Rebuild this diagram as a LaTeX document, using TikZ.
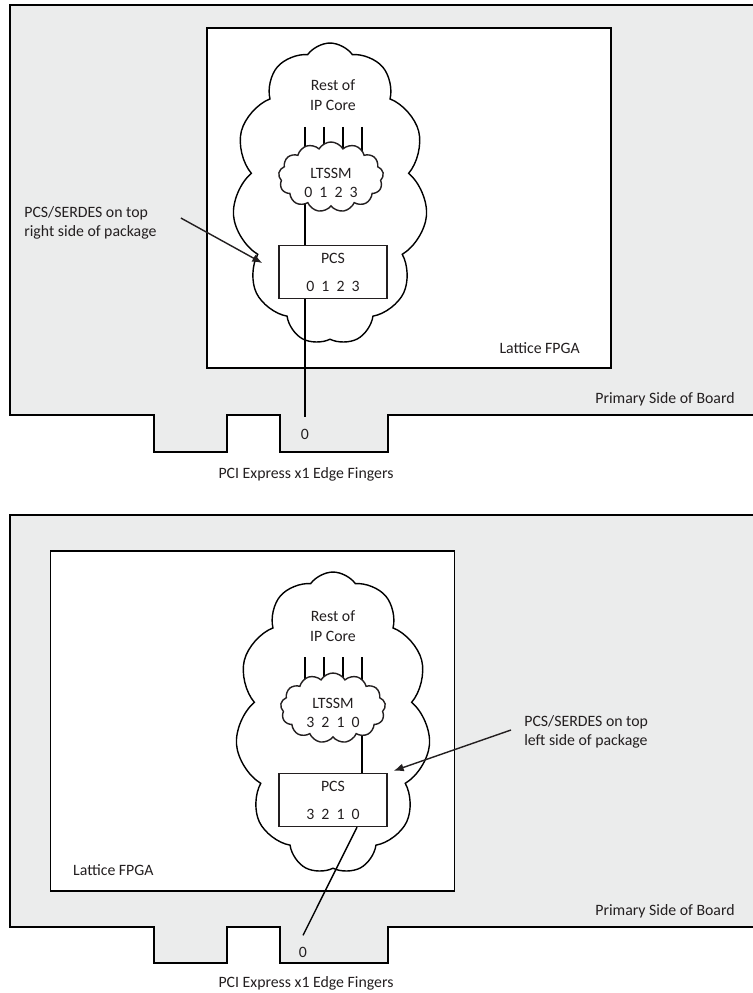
\documentclass[tikz,border=0pt]{standalone}
\usepackage{fontspec}
\setmainfont{Carlito}
\usetikzlibrary{shapes.symbols, arrows.meta, positioning, calc}
\pgfdeclarelayer{back}
\pgfdeclarelayer{wires}
\pgfsetlayers{back,wires,main}
\definecolor{boardgray}{HTML}{EBECEC}
\definecolor{ink}{HTML}{231F20}

\begin{document}
\begin{tikzpicture}[x=0.02cm, y=-0.02cm, ink, font=\fontsize{9}{11}\selectfont]
    \tikzstyle{board} = [draw, fill=boardgray, line width=1pt]
    \tikzstyle{fpga} = [rectangle, draw, fill=white, line width=1pt, minimum width=8.08cm, minimum height=6.8cm]
    \tikzstyle{core} = [cloud, draw, fill=white, cloud puffs=11, cloud puff arc=110, minimum width=3.9cm, minimum height=6.04cm, line width=0.8pt]
    \tikzstyle{ltssm} = [cloud, draw, fill=white, cloud puffs=13, cloud puff arc=120, minimum width=2.1cm, minimum height=1.4cm, line width=0.8pt]
    \tikzstyle{pcs} = [rectangle, draw, fill=white, minimum width=2.16cm, minimum height=1.06cm, align=center, line width=0.8pt]
    \tikzstyle{note} = [inner sep=0pt, align=left, anchor=west]
    \tikzstyle{line} = [draw, line width=0.8pt]
    \tikzstyle{pointer} = [draw, -{Latex[length=2mm, width=1.6mm]}, line width=0.8pt]

    \useasboundingbox (0,0) rectangle (753,993);

    % Top: PCS/SERDES on top right side
    \begin{pgfonlayer}{back}
    \path[board] (753,5) -- (10,5) -- (10,415) -- (154,415) -- (154,452) -- (227,452) -- (227,415) -- (280,415) -- (280,452) -- (388,452) -- (388,415) -- (753,415);
    \node[fpga] (fpgaTop) at (409,198) {};
    \node[core] (coreTop) at (330,194) {};
    \end{pgfonlayer}

    \node[align=center] (restTop) at (333,95) {Rest of\\IP Core};
    \node[ltssm] (ltssmTop) at (331,177) {};
    \node[align=center] (laneTop) at (331,183) {LTSSM\\0\ \ 1\ \ 2\ \ 3};
    \node[pcs] (pcsTop) at (333,272) {PCS\\[5pt]0\ \ 1\ \ 2\ \ 3};
    \node (finTop) at (305,434) {0};
    \node (edgeTop) at (306,474) {PCI Express x1 Edge Fingers};
    \node[anchor=east] (nameTop) at (586,348) {Lattice FPGA};
    \node (sideTop) at (665,399) {Primary Side of Board};
    \node[note] (noteTop) at (24,223) {PCS/SERDES on top\\right side of package};

    \begin{pgfonlayer}{wires}
    \foreach \x [count=\i] in {305,324,343,362} {
        \coordinate (busTop\i) at (\x,127);
        \path[line] (busTop\i) -- (busTop\i |- ltssmTop.center);
    }
    \path[line] (ltssmTop.center -| busTop1) -- (pcsTop.north -| busTop1);
    \path[line] (pcsTop.south -| busTop1) -- ([yshift=3pt]finTop.north);
    \end{pgfonlayer}
    \path[pointer] ([shift={(24,-5)}]noteTop.east) -- ([shift={(-16,-9)}]pcsTop.west);

    % Bottom: PCS/SERDES on top left side
    \begin{pgfonlayer}{back}
    \path[board] (753,515) -- (10,515) -- (10,927) -- (154,927) -- (154,963) -- (227,963) -- (227,927) -- (280,927) -- (280,963) -- (388,963) -- (388,927) -- (753,927);
    \node[fpga] (fpgaBot) at (252.5,721) {};
    \node[core] (coreBot) at (333,723) {};
    \end{pgfonlayer}

    \node[align=center] (restBot) at (333,626) {Rest of\\IP Core};
    \node[ltssm] (ltssmBot) at (333,708) {};
    \node[align=center] (laneBot) at (333,713) {LTSSM\\3\ \ 2\ \ 1\ \ 0};
    \node[pcs] (pcsBot) at (333,800) {PCS\\[5pt]3\ \ 2\ \ 1\ \ 0};
    \node (finBot) at (303,952) {0};
    \node (edgeBot) at (306,983) {PCI Express x1 Edge Fingers};
    \node[anchor=west] (nameBot) at (67,870) {Lattice FPGA};
    \node (sideBot) at (665,911) {Primary Side of Board};
    \node[note] (noteBot) at (524,732) {PCS/SERDES on top\\left side of package};

    \begin{pgfonlayer}{wires}
    \foreach \x [count=\i] in {305,324,343,362} {
        \coordinate (busBot\i) at (\x,657);
        \path[line] (busBot\i) -- (busBot\i |- ltssmBot.center);
    }
    \path[line] (ltssmBot.center -| busBot4) -- (pcsBot.north -| busBot4);
    \path[line] ([xshift=0.48cm]pcsBot.south) -- ([yshift=3pt]finBot.north);
    \end{pgfonlayer}
    \path[pointer] ([shift={(-13,-2)}]noteBot.west) -- ([shift={(6,-2)}]pcsBot.north east);
\end{tikzpicture}
\end{document}
